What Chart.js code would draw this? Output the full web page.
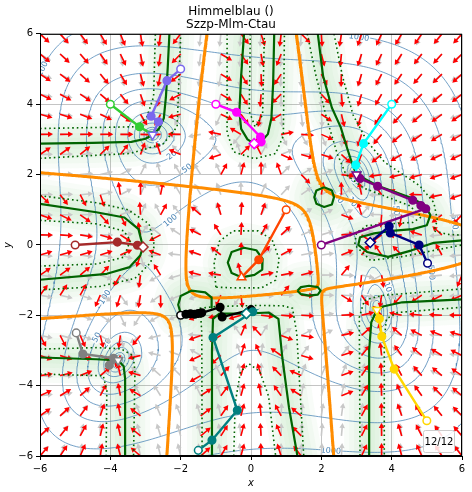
<!DOCTYPE html>
<html>
<head>
<meta charset="utf-8">
<script src="https://cdn.jsdelivr.net/npm/chart.js@4.4.1/dist/chart.umd.min.js"></script>
<style>
  body { margin: 0; background: #fff; }
</style>
</head>
<body>
<canvas id="chart" width="472" height="492"></canvas>
<script>
// ---- values ----
const titleLines = ['Himmelblau ()', 'Szzp-Mlm-Ctau'];
const axisTicks = [-6, -4, -2, 0, 2, 4, 6];
const contourLevels = [1, 2, 5, 10, 20, 50, 100, 200, 500, 1000];
const quiverCount = 22;
const newtonLimit = 4;
const frameLabel = '12/12';

const labelText = ['1000', '5', '20', '50', '100', '1000', '5', '10', '20', '50', '500', '100', '50', '20', '10', '5', '500', '1000'];
const labelX = [-5.89, -2.63, -2.25, -1.82, -2.29, 3.07, 2.93, 2.88, 2.5, 4.12, 5.78, -4.15, -4.38, -4.1, 3.88, 3.31, 5.12, 2.27];
const labelY = [5.07, 2.84, 2.55, 2.17, 0.69, 5.9, 1.84, 1.22, 1.32, 0.98, 0.65, -1.49, -2.63, -2.8, -1.2, -1.49, -0.78, -5.86];

// solid green curves
const greenTopLeft = [[-6, 2.88], [-4.5, 2.9], [-3.4, 2.93], [-3.0, 3.02], [-2.8, 3.13], [-2.62, 3.3], [-2.48, 3.6], [-2.42, 4.2], [-2.37, 5], [-2.32, 6]];
const greenTopU = [[-0.2, 6], [-0.28, 4.8], [-0.33, 3.8], [-0.28, 3.3], [-0.1, 3.0], [0.09, 2.88], [0.3, 2.95], [0.48, 3.15], [0.58, 3.6], [0.63, 4.6], [0.66, 6]];
const greenTopRight = [[1.9, 6], [2.05, 4.8], [2.3, 3.9], [2.55, 3.35], [2.75, 2.7], [2.88, 2.3], [3.0, 2.0], [3.6, 1.68], [4.55, 1.34], [4.95, 1.12], [5.1, 0.85], [5.0, 0.56], [4.6, 0.45], [4.0, 0.4], [3.5, 0.33], [3.1, 0.22], [3.05, 0.0], [3.3, -0.2], [3.9, -0.34], [4.55, -0.16], [5.2, 0.06], [6, 0.13]];
const greenLeftMid = [[-6, 1.17], [-4.4, 0.93], [-3.6, 0.78], [-3.2, 0.45], [-3.07, -0.06], [-3.15, -0.3], [-3.45, -0.63], [-4.1, -0.82], [-6, -0.99]];
const greenBottomLeft = [[-6, -3.2], [-4.4, -3.25], [-3.78, -3.28], [-3.62, -3.45], [-3.58, -3.8], [-3.58, -6]];
const greenBottomRight = [[6, -1.55], [4.3, -1.63], [3.75, -1.75], [3.58, -1.85], [3.42, -2.2], [3.36, -3], [3.36, -6]];
const greenBottomArch = [[-1.12, -6], [-1.11, -3], [-1.08, -2.1], [-0.9, -1.95], [-0.13, -1.95], [0.5, -1.92], [0.78, -2.1], [0.89, -3.2], [1.08, -4.62], [1.32, -6]];
const greenCenterLoop = [[-0.27, -0.92], [-0.55, -0.8], [-0.66, -0.5], [-0.55, -0.2], [-0.2, -0.08], [0.15, -0.15], [0.33, -0.4], [0.32, -0.7], [0.1, -0.85], [-0.27, -0.92]];
const greenHook = [[-2.0, -1.95], [-2.07, -1.7], [-2.0, -1.45], [-1.7, -1.3], [-1.3, -1.35], [-1.12, -1.5], [-1.12, -1.78]];
const greenRing = [[2.08, 1.64], [2.3, 1.55], [2.36, 1.36], [2.3, 1.15], [2.08, 1.08], [1.86, 1.17], [1.8, 1.36], [1.86, 1.55], [2.08, 1.64]];
const greenOval = [[1.32, -1.3], [1.42, -1.2], [1.65, -1.16], [1.9, -1.2], [1.98, -1.3], [1.9, -1.41], [1.65, -1.44], [1.42, -1.4], [1.32, -1.3]];

// dotted green curves
const dotA = [[-6, 3.31], [-3.24, 3.36], [-2.96, 3.64], [-2.77, 4.21], [-2.72, 6]];
const dotB = [[-6, 2.46], [-3.43, 2.6], [-2.49, 2.88], [-2.1, 3.36], [-2.0, 6]];
const dotC = [[-0.68, 6], [-0.68, 3.2], [-0.5, 2.65], [0.1, 2.45], [0.7, 2.6], [0.92, 3.1], [0.95, 6]];
const dotD = [[-0.02, 6], [-0.05, 3.8], [0.12, 3.35], [0.33, 3.7], [0.38, 6]];
const dotE = [[1.6, 6], [1.85, 4.8], [2.15, 3.6], [2.45, 2.6], [2.7, 2.0], [3.2, 1.62], [4.5, 1.12], [4.85, 0.8], [4.6, 0.64], [3.9, 0.6], [3.3, 0.55], [3.0, 0.35], [2.95, 0.0], [3.4, -0.44], [4.26, -0.34], [6, 0.0]];
const dotF = [[2.36, 6], [2.6, 4.8], [2.9, 3.7], [3.3, 2.95], [3.8, 2.35], [4.8, 1.68], [5.2, 1.2], [5.3, 0.7], [5.2, 0.4], [5.6, 0.3], [6, 0.28]];
const dotG = [[6, -1.77], [4.17, -1.92], [3.85, -2.1], [3.79, -2.7], [3.79, -6]];
const dotH = [[6, -1.25], [3.69, -1.44], [3.22, -1.58], [3.08, -2.06], [3.1, -6]];
const dotI = [[-1.39, -6], [-1.4, -2.5], [-1.44, -1.8], [-1.0, -1.75], [0.2, -1.72], [0.9, -1.73], [1.18, -1.8], [1.3, -2.5], [1.5, -6]];
const dotJ = [[-0.49, -6], [-0.45, -4.5], [-0.3, -3.6], [-0.05, -3.38], [0.25, -3.6], [0.5, -4.3], [0.7, -6]];
const dotK = [[-6, -2.96], [-4.4, -2.92], [-3.7, -2.95], [-3.35, -3.15], [-3.3, -3.6], [-3.34, -6]];
const dotL = [[-6, -3.67], [-4.2, -3.72], [-4.1, -4.15], [-4.12, -6]];
const dotM = [[-6, 1.4], [-4.4, 1.2], [-3.5, 1.0], [-2.9, 0.6], [-2.75, 0], [-2.85, -0.5], [-3.3, -0.95], [-4.3, -1.18], [-6, -1.28]];
const dotN = [[-6, 0.7], [-4.4, 0.6], [-3.62, 0.4], [-3.43, 0.13], [-3.62, -0.35], [-4.38, -0.54], [-6, -0.6]];
const dotO = [[-1.0, -1.2], [-1.05, -0.5], [-0.9, 0.1], [-0.5, 0.4], [0.2, 0.4], [0.6, 0.15], [0.8, -0.4], [0.7, -1.0], [0.3, -1.22], [-0.5, -1.22], [-1.0, -1.2]];

// optimiser runs
const pathLime = [[-4, 4], [-3.17, 3.36], [-2.82, 3.15]];
const pathSlate = [[-2, 5], [-2.39, 4.67], [-2.84, 3.66], [-2.63, 3.5], [-2.8, 3.13]];
const pathMagenta = [[-1, 4], [-0.41, 3.77], [0.27, 3.07], [0.29, 2.93], [0.09, 2.88]];
const pathCyan = [[4, 4], [3.2, 2.88], [2.98, 2.27], [3.0, 2.0]];
const pathPurple = [[2, 0], [4.97, 1.03], [4.83, 1.12], [4.6, 1.27], [3.6, 1.67], [3.1, 1.89], [3.0, 2.0]];
const pathNavy = [[5.02, -0.52], [4.78, 0.0], [3.96, 0.34], [3.93, 0.53], [3.39, 0.07]];
const pathBrown = [[-5, 0], [-3.8, 0.08], [-3.23, -0.01], [-3.07, -0.06]];
const pathOrangeRed = [[1, 1], [0.22, -0.42], [-0.27, -0.92]];
const pathBlack = [[-2, -2], [-1.85, -1.97], [-1.72, -1.96], [-1.6, -1.97], [-1.5, -1.95], [-1.4, -1.93], [-0.88, -1.77], [-0.82, -2.05], [0.0, -1.84], [-0.13, -1.95]];
const pathTeal = [[-1.5, -5.84], [-1.11, -5.55], [-0.39, -4.7], [-1.08, -2.63], [0.05, -1.9], [-0.13, -1.95]];
const pathGray = [[-4.97, -2.5], [-4.78, -3.1], [-3.91, -3.22], [-4.03, -3.42], [-3.78, -3.28]];
const pathGold = [[5, -5], [4.07, -3.53], [3.72, -2.6], [3.65, -2.1], [3.58, -1.85]];

const runs = [pathLime, pathSlate, pathMagenta, pathCyan, pathPurple, pathNavy, pathBrown, pathOrangeRed, pathBlack, pathTeal, pathGray, pathGold];
const runColors = ['#32cd32', '#7b68ee', '#ff00ff', '#00ffff', '#800080', '#000080', '#a52a2a', '#ff4500', '#000000', '#008080', '#808080', '#ffd700'];
const runEnds = ['v', 'v', 'D', 'v', 'v', 'D', 'D', '^', 'D', 'D', 'v', 'v'];

const solidCurves = [greenTopLeft, greenTopU, greenTopRight, greenLeftMid, greenBottomLeft, greenBottomRight, greenBottomArch, greenCenterLoop, greenHook, greenRing, greenOval];
const dottedCurves = [dotA, dotB, dotC, dotD, dotE, dotF, dotG, dotH, dotI, dotJ, dotK, dotL, dotM, dotN, dotO];

// ---- the test function ----
function himmelblau(x, y) {
  const a = x * x + y - 11, b = x + y * y - 7;
  return a * a + b * b;
}
function grad(x, y) {
  const a = x * x + y - 11, b = x + y * y - 7;
  return [4 * x * a + 2 * b, 2 * a + 4 * y * b];
}
function hess(x, y) {
  return [12 * x * x + 4 * y - 42, 4 * (x + y), 12 * y * y + 4 * x - 26];
}
function hessDet(x, y) {
  const h = hess(x, y);
  return h[0] * h[2] - h[1] * h[1];
}

// marching squares, segments split by NaN gaps
function levelSegments(fn, level, n) {
  const step = 12 / n, out = [], val = [];
  for (let i = 0; i <= n; i++) {
    const row = [];
    for (let j = 0; j <= n; j++) row.push(fn(-6 + i * step, -6 + j * step) - level);
    val.push(row);
  }
  for (let i = 0; i < n; i++) {
    for (let j = 0; j < n; j++) {
      const x0 = -6 + i * step, y0 = -6 + j * step;
      const c = [val[i][j], val[i + 1][j], val[i + 1][j + 1], val[i][j + 1]];
      const p = [[x0, y0], [x0 + step, y0], [x0 + step, y0 + step], [x0, y0 + step]];
      const hits = [];
      for (let k = 0; k < 4; k++) {
        const a = c[k], b = c[(k + 1) % 4];
        if ((a < 0) !== (b < 0)) {
          const t = a / (a - b), q = p[(k + 1) % 4];
          hits.push({ x: p[k][0] + t * (q[0] - p[k][0]), y: p[k][1] + t * (q[1] - p[k][1]) });
        }
      }
      for (let k = 0; k + 1 < hits.length; k += 2) out.push(hits[k], hits[k + 1], { x: NaN, y: NaN });
    }
  }
  return out;
}

const toXY = arr => arr.map(p => ({ x: p[0], y: p[1] }));
const fmt = v => (v < 0 ? '\u2212' + Math.abs(v) : String(v));

const datasets = [];

// soft green bands under the solid curves
[[50, 300], [40, 299], [30, 298], [20, 297], [11, 296]].forEach(([w, ord]) => {
  solidCurves.forEach(c => datasets.push({
    data: toXY(c), showLine: true, borderColor: 'rgba(70,175,70,0.04)', borderWidth: w, pointRadius: 0,
    borderJoinStyle: 'round', borderCapStyle: 'round', order: ord, clip: 0
  }));
});

let contourData = [];
contourLevels.forEach(l => { contourData = contourData.concat(levelSegments(himmelblau, l, 150)); });
const contourIndex = datasets.length;
datasets.push({
  data: contourData, showLine: true, borderColor: 'rgba(70,130,180,0.95)', borderWidth: 0.8,
  pointRadius: 0, order: 200, clip: 0
});

datasets.push({
  data: levelSegments(hessDet, 0, 220), showLine: true, borderColor: '#ff8c00', borderWidth: 3,
  borderCapStyle: 'round', pointRadius: 0, order: 150, clip: 0
});

dottedCurves.forEach(c => datasets.push({
  data: toXY(c), showLine: true, borderColor: '#006400', borderWidth: 1.6, borderDash: [1.6, 3],
  pointRadius: 0, order: 120, clip: 0
}));
solidCurves.forEach(c => datasets.push({
  data: toXY(c), showLine: true, borderColor: '#006400', borderWidth: 2.2, pointRadius: 0,
  borderJoinStyle: 'round', order: 110, clip: 0
}));

runs.forEach((run, r) => {
  const last = run.length - 1, col = runColors[r], end = runEnds[r];
  datasets.push({
    data: toXY(run), showLine: true, borderColor: col, borderWidth: 2.4, order: 50 - r,
    pointStyle: run.map((_, i) => i === last ? (end === 'D' ? 'rectRot' : 'triangle') : 'circle'),
    pointRotation: run.map((_, i) => (i === last && end === 'v') ? 180 : 0),
    pointRadius: run.map((_, i) => i === last ? 5 : 3.8),
    pointBackgroundColor: run.map((_, i) => (i === 0 || i === last) ? '#ffffff' : col),
    pointBorderColor: col, pointBorderWidth: 1.5
  });
});

function arrow(ctx, x, y, ux, uy, len) {
  const hl = 5, hw = 2.8, sw = 0.8;
  const bx = x + ux * (len - hl), by = y + uy * (len - hl);
  const nx = -uy, ny = ux;
  ctx.beginPath();
  ctx.moveTo(x + nx * sw, y + ny * sw);
  ctx.lineTo(bx + nx * sw, by + ny * sw);
  ctx.lineTo(bx + nx * hw, by + ny * hw);
  ctx.lineTo(x + ux * len, y + uy * len);
  ctx.lineTo(bx - nx * hw, by - ny * hw);
  ctx.lineTo(bx - nx * sw, by - ny * sw);
  ctx.lineTo(x - nx * sw, y - ny * sw);
  ctx.closePath();
  ctx.fill();
}

const fieldPlugin = {
  id: 'field',
  afterDatasetDraw(chart, args) {
    if (args.index !== contourIndex) return;
    const ctx = chart.ctx, area = chart.chartArea, xs = chart.scales.x, ys = chart.scales.y;
    ctx.save();
    ctx.beginPath();
    ctx.rect(area.left, area.top, area.right - area.left, area.bottom - area.top);
    ctx.clip();

    // contour labels
    ctx.font = '8px "DejaVu Sans", sans-serif';
    ctx.textAlign = 'center';
    ctx.textBaseline = 'middle';
    labelText.forEach((t, i) => {
      const g = grad(labelX[i], labelY[i]);
      let ang = Math.atan2(g[0], g[1]);
      if (ang > Math.PI / 2) ang -= Math.PI;
      if (ang < -Math.PI / 2) ang += Math.PI;
      ctx.save();
      ctx.translate(xs.getPixelForValue(labelX[i]), ys.getPixelForValue(labelY[i]));
      ctx.rotate(ang);
      ctx.lineWidth = 3;
      ctx.strokeStyle = 'rgba(255,255,255,0.9)';
      ctx.strokeText(t, 0, 0);
      ctx.fillStyle = 'rgb(70,130,180)';
      ctx.fillText(t, 0, 0);
      ctx.restore();
    });

    // quiver: grey = steepest descent, red = newton-type step
    const pts = [];
    for (let i = 0; i < quiverCount; i++) {
      for (let j = 0; j < quiverCount; j++) {
        pts.push([-6 + 12 * i / (quiverCount - 1), -6 + 12 * j / (quiverCount - 1)]);
      }
    }
    ctx.fillStyle = '#c8c8c8';
    pts.forEach(([x, y]) => {
      const g = grad(x, y), gn = Math.hypot(g[0], g[1]) || 1;
      arrow(ctx, xs.getPixelForValue(x), ys.getPixelForValue(y), -g[0] / gn, g[1] / gn, 13);
    });
    ctx.fillStyle = '#ff0000';
    pts.forEach(([x, y]) => {
      const g = grad(x, y), h = hess(x, y), det = h[0] * h[2] - h[1] * h[1];
      if (Math.abs(det) < 1e-9) return;
      let nx = -(h[2] * g[0] - h[1] * g[1]) / det, ny = -(-h[1] * g[0] + h[0] * g[1]) / det;
      if (nx * -g[0] + ny * -g[1] < 0) { nx = -nx; ny = -ny; }
      const nl = Math.hypot(nx, ny);
      if (nl > 0 && nl < newtonLimit) {
        arrow(ctx, xs.getPixelForValue(x), ys.getPixelForValue(y), nx / nl, -ny / nl, 13);
      }
    });
    ctx.restore();
  },
  afterDraw(chart) {
    const ctx = chart.ctx, a = chart.chartArea;
    ctx.save();
    ctx.strokeStyle = '#000';
    ctx.lineWidth = 1;
    ctx.strokeRect(a.left + 0.5, a.top + 0.5, a.right - a.left - 1, a.bottom - a.top - 1);
    // frame counter box
    const w = 31, h = 22, bx = a.right - 8 - w, by = a.bottom - 4 - h;
    ctx.fillStyle = 'rgba(255,255,255,0.85)';
    ctx.strokeStyle = '#cccccc';
    ctx.beginPath();
    ctx.roundRect(bx + 0.5, by + 0.5, w, h, 2);
    ctx.fill();
    ctx.stroke();
    ctx.fillStyle = '#000';
    ctx.font = '10px "DejaVu Sans", sans-serif';
    ctx.textAlign = 'center';
    ctx.textBaseline = 'middle';
    ctx.fillText(frameLabel, bx + w / 2 + 0.5, by + h / 2 + 1);
    ctx.restore();
  }
};

Chart.defaults.font.family = "'DejaVu Sans', sans-serif";
Chart.defaults.color = '#000';

const axis = (title, fit) => ({
  type: 'linear', min: -6, max: 6,
  afterBuildTicks: s => { s.ticks = axisTicks.map(v => ({ value: v })); },
  afterFit: fit,
  ticks: { callback: v => fmt(v), font: { size: 10 }, color: '#000', padding: 3, maxRotation: 0 },
  grid: { color: 'rgba(176,176,176,0.75)', lineWidth: 1, tickColor: '#000', tickLength: 4, drawTicks: true },
  border: { display: true, color: '#000', width: 1 },
  title: { display: true, text: title, color: '#000', font: { size: 10, style: 'italic' }, padding: { top: 2, bottom: 3 } }
});

new Chart(document.getElementById('chart'), {
  type: 'scatter',
  data: { datasets },
  options: {
    responsive: false,
    animation: false,
    events: [],
    layout: { padding: { left: 0, right: 10, top: 0, bottom: 0 } },
    plugins: {
      legend: { display: false },
      tooltip: { enabled: false },
      title: {
        display: true, text: titleLines, color: '#000',
        font: { size: 12, weight: 'normal', lineHeight: 1.12 },
        padding: { top: 5, bottom: 2 }
      }
    },
    elements: { line: { tension: 0 } },
    scales: {
      x: axis('x', s => { s.height = 36; }),
      y: axis('y', s => { s.width = 40; })
    }
  },
  plugins: [fieldPlugin]
});
</script>
</body>
</html>
